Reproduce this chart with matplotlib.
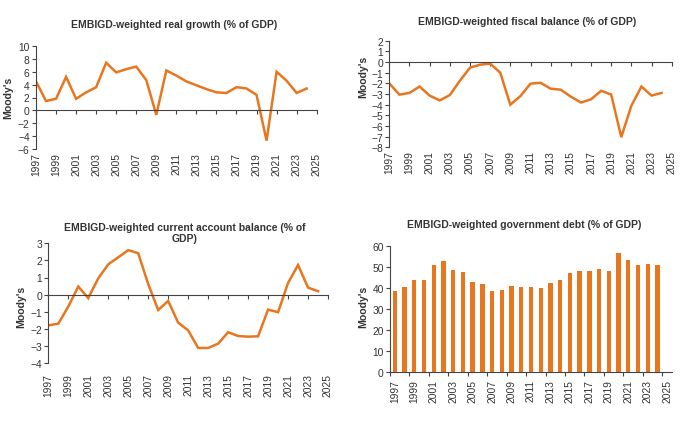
import matplotlib
matplotlib.use("Agg")
import matplotlib.pyplot as plt
import numpy as np

plt.rcParams['font.family'] = ['Liberation Sans', 'DejaVu Sans']

years = list(range(1997, 2025))
growth = [4.5, 1.45, 1.8, 5.2, 1.8, 2.8, 3.6, 7.4, 5.9, 6.4, 6.8, 4.7, -0.7, 6.2,
          5.4, 4.5, 3.9, 3.3, 2.8, 2.7, 3.6, 3.4, 2.4, -4.7, 6.0, 4.6, 2.7, 3.4]
fiscal = [-2.0, -3.06, -2.9, -2.3, -3.15, -3.6, -3.1, -1.75, -0.53, -0.25, -0.15, -1.0,
          -4.0, -3.2, -2.03, -1.95, -2.5, -2.6, -3.25, -3.8, -3.5, -2.7, -3.05, -7.05,
          -4.1, -2.3, -3.15, -2.9]
current = [-1.8, -1.7, -0.7, 0.47, -0.2, 0.95, 1.77, 2.18, 2.6, 2.42, 0.62, -0.9, -0.37,
           -1.64, -2.09, -3.12, -3.12, -2.87, -2.2, -2.42, -2.46, -2.44, -0.88, -1.03,
           0.68, 1.73, 0.41, 0.2]
debt = [38.9, 40.5, 44.1, 44.1, 51.0, 52.9, 48.7, 47.6, 43.0, 41.9, 38.6, 39.0, 41.0,
        40.8, 40.8, 40.2, 42.4, 44.1, 47.1, 48.3, 48.3, 49.0, 48.3, 56.7, 53.5, 51.3,
        51.6, 51.3]
tick_years = list(range(1997, 2026, 2))

titles = ["EMBIGD-weighted real growth (% of GDP)",
          "EMBIGD-weighted fiscal balance (% of GDP)",
          "EMBIGD-weighted current account balance (% of\nGDP)",
          "EMBIGD-weighted government debt (% of GDP)"]
ylabel = "Moody's"

W, H = 680, 427
fig = plt.figure(figsize=(W / 100, H / 100), dpi=100)

ORANGE = '#E8761E'
AX = '#444444'
TXT = '#333333'
FS = 7.4


def px_axes(x0, x1, ytop, ybot):
    return fig.add_axes([x0 / W, 1 - ybot / H, (x1 - x0) / W, (ybot - ytop) / H])


def style_common(ax):
    for s in ['top', 'right']:
        ax.spines[s].set_visible(False)
    ax.spines['left'].set_color(AX)
    ax.spines['left'].set_linewidth(0.8)
    ax.tick_params(axis='y', direction='out', length=3, width=0.8, color=AX,
                   labelsize=FS, labelcolor=TXT, pad=1.5)


def line_panel(rect, data, ylim, yticks, pad):
    ax = px_axes(*rect)
    ax.plot(years, data, color=ORANGE, lw=1.8, solid_joinstyle='miter')
    ax.set_xlim(1997, 2025)
    ax.set_ylim(*ylim)
    ax.set_yticks(yticks)
    style_common(ax)
    ax.spines['bottom'].set_position(('data', 0))
    ax.spines['bottom'].set_color(AX)
    ax.spines['bottom'].set_linewidth(0.8)
    ax.set_xticks(tick_years)
    ax.tick_params(axis='x', direction='out', length=3, width=0.8, color=AX,
                   labelbottom=False)
    sec = ax.secondary_xaxis('bottom')
    sec.set_xticks(tick_years)
    sec.set_xticklabels([str(y) for y in tick_years], rotation=90)
    sec.tick_params(length=0, labelsize=FS, labelcolor=TXT, pad=pad)
    sec.spines['bottom'].set_visible(False)
    return ax


line_panel((36, 316.7, 47, 150), growth, (-6, 10), range(-6, 11, 2), 2)
line_panel((389.3, 671.7, 41.7, 148.3), fiscal, (-8, 2), range(-8, 3, 1), 2)
line_panel((48.3, 328, 244.3, 364), current, (-4, 3), range(-4, 4, 1), 7)

# bar panel
ax = px_axes(390, 672, 247.3, 373.3)
ax.bar(years, debt, width=0.45, color=ORANGE, edgecolor='none')
ax.set_xlim(1996.5, 2025.5)
ax.set_ylim(0, 60)
ax.set_yticks(range(0, 61, 10))
style_common(ax)
ax.spines['bottom'].set_color(AX)
ax.spines['bottom'].set_linewidth(0.8)
ax.set_xticks(np.arange(1996.5, 2025.6, 2))
ax.set_xticklabels([])
ax.set_xticks(tick_years, [str(y) for y in tick_years], minor=True, rotation=90)
ax.tick_params(axis='x', which='major', direction='out', length=3, width=0.8, color=AX)
ax.tick_params(axis='x', which='minor', length=0, labelsize=FS, labelcolor=TXT, pad=5)

# titles
title_pos = [(173.7, 25), (527, 21.7), (185, 233.5), (524, 225)]
for (x, y), t in zip(title_pos, titles):
    fig.text(x / W, 1 - y / H, t, ha='center', va='center', fontsize=7.5,
             fontweight='bold', color=TXT, linespacing=1.15)

ylab_pos = [(8.3, 98), (363.3, 77), (21.7, 306.7), (363, 306.7)]
for x, y in ylab_pos:
    fig.text(x / W, 1 - y / H, ylabel, ha='center', va='center', rotation=90,
             fontsize=7.6, fontweight='bold', color=TXT)

fig.savefig('out.png', dpi=100, facecolor='white')
